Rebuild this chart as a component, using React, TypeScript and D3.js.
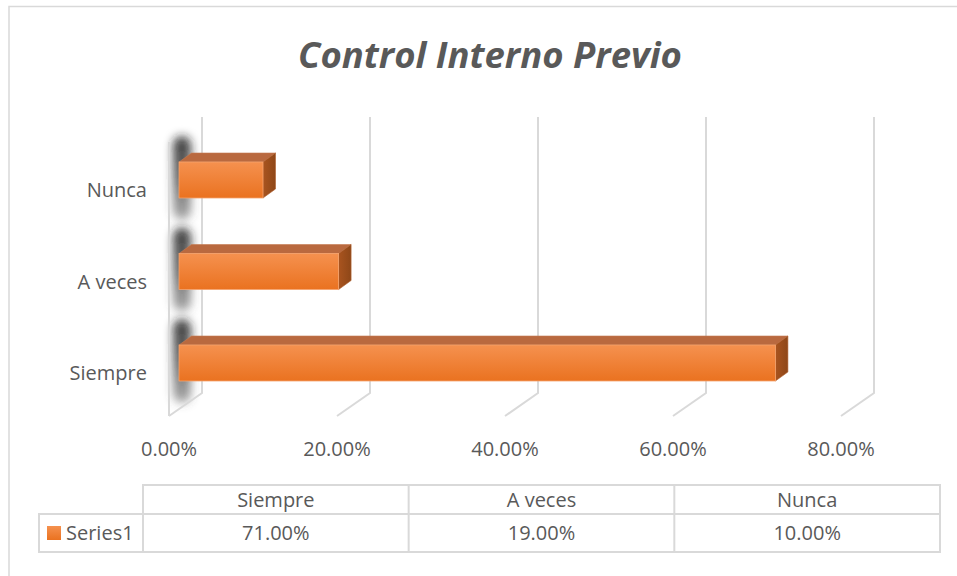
import React from "react";
import * as d3 from "d3";

const categories = ["Nunca", "A veces", "Siempre"];
const values = [0.1, 0.19, 0.71];
const tableCategories = ["Siempre", "A veces", "Nunca"];
const tableValues = [0.71, 0.19, 0.1];
const xTicks = [0, 0.2, 0.4, 0.6, 0.8];
const seriesName = "Series1";
const title = "Control Interno Previo";

const W = 957;
const H = 576;
const FONT = "'Open Sans', 'Noto Sans', sans-serif";
const TEXT = "#595959";
const GRID = "#D9D9D9";

export default function App() {
  const fmt = d3.format(".2%");
  const xFront = d3.scaleLinear().domain([0, 0.8]).range([169, 841]);
  const backDx = 33;
  const backDy = -23;
  const floorY = 416;
  const wallTop = 117;
  const barDxOff = 10;
  const y = d3.scalePoint<string>().domain(categories).range([180, 363]);
  const barH = 36;
  const depthX = 12.5;
  const depthY = 9;

  const fmtN = (n: number) => n.toFixed(1);

  const tableX = d3.scaleBand<string>().domain(tableCategories).range([143, 940]);

  return (
    <svg
      width={W}
      height={H}
      style={{ position: "absolute", left: 0, top: 0, background: "#fff" }}
      fontFamily={FONT}
    >
      <defs>
        <linearGradient id="front" x1="0" y1="0" x2="0" y2="1">
          <stop offset="0" stopColor="#F5914F" />
          <stop offset="1" stopColor="#EA7220" />
        </linearGradient>
        <linearGradient id="side" x1="0" y1="0" x2="1" y2="0">
          <stop offset="0" stopColor="#A9541F" />
          <stop offset="1" stopColor="#8E4718" />
        </linearGradient>
        <linearGradient id="shadow" x1="0" y1="0" x2="0" y2="1">
          <stop offset="0" stopColor="#1a1a1a" stopOpacity={0.85} />
          <stop offset="0.5" stopColor="#333" stopOpacity={0.75} />
          <stop offset="1" stopColor="#555" stopOpacity={0.5} />
        </linearGradient>
        <filter id="blur" x="-100%" y="-50%" width="300%" height="200%">
          <feGaussianBlur stdDeviation="5" />
        </filter>
      </defs>
      <rect x={0} y={0} width={W} height={H} fill="#fff" />
      <path d={`M9,${H + 5} V6.5 H${W + 5}`} fill="none" stroke={GRID} strokeWidth={1.5} />

      <text
        x={490}
        y={68}
        textAnchor="middle"
        fontSize={36.5}
        fontWeight={700}
        fontStyle="italic"
        fill={TEXT}
      >
        {title}
      </text>

      {/* shadows on the side wall */}
      {categories.map((c) => {
        const yt = y(c)! - barH / 2;
        return (
          <rect
            key={"s" + c}
            x={173}
            y={yt - 26}
            width={18}
            height={barH + 48}
            rx={9}
            fill="url(#shadow)"
            filter="url(#blur)"
          />
        );
      })}

      {xTicks.map((t) => {
        const xf = xFront(t);
        const xb = xf + backDx;
        return (
          <path
            key={t}
            d={`M${xb},${wallTop} V${floorY + backDy} L${xf},${floorY}`}
            fill="none"
            stroke={GRID}
            strokeWidth={2}
          />
        );
      })}
      <line x1={xFront(0)} x2={xFront(0)} y1={142} y2={floorY} stroke={GRID} strokeWidth={2} />

      {categories.map((c, i) => {
        const v = values[i];
        const x0 = xFront(0) + barDxOff;
        const x1 = xFront(v) + barDxOff;
        const yt = y(c)! - barH / 2;
        const yb = yt + barH;
        const top = `M${fmtN(x0)},${fmtN(yt)} L${fmtN(x0 + depthX)},${fmtN(yt - depthY)} L${fmtN(
          x1 + depthX
        )},${fmtN(yt - depthY)} L${fmtN(x1)},${fmtN(yt)} Z`;
        const side = `M${fmtN(x1)},${fmtN(yt)} L${fmtN(x1 + depthX)},${fmtN(yt - depthY)} L${fmtN(
          x1 + depthX
        )},${fmtN(yb - depthY)} L${fmtN(x1)},${fmtN(yb)} Z`;
        return (
          <g key={c}>
            <path d={top} fill="#B9693F" stroke="#C47A50" strokeWidth={0.6} />
            <path d={side} fill="url(#side)" stroke="#B0602F" strokeWidth={0.6} />
            <rect
              x={x0}
              y={yt}
              width={x1 - x0}
              height={barH}
              fill="url(#front)"
              stroke="#F6A46E"
              strokeWidth={0.8}
            />
          </g>
        );
      })}

      {categories.map((c) => (
        <text
          key={"l" + c}
          x={147}
          y={y(c)! + 17}
          textAnchor="end"
          fontSize={20}
          fill={TEXT}
        >
          {c}
        </text>
      ))}

      {xTicks.map((t) => (
        <text key={"t" + t} x={xFront(t)} y={456} textAnchor="middle" fontSize={20} fill={TEXT}>
          {fmt(t)}
        </text>
      ))}

      <g stroke={GRID} strokeWidth={2} fill="none">
        <path d={`M143,552 V485 H940 V552 H39 V514 H940`} />
        {tableCategories.slice(1).map((c) => (
          <line key={"v" + c} x1={tableX(c)!} x2={tableX(c)!} y1={485} y2={552} />
        ))}
      </g>
      {tableCategories.map((c, i) => (
        <g key={"tc" + c}>
          <text
            x={tableX(c)! + tableX.bandwidth() / 2}
            y={507}
            textAnchor="middle"
            fontSize={20}
            fill={TEXT}
          >
            {c}
          </text>
          <text
            x={tableX(c)! + tableX.bandwidth() / 2}
            y={540}
            textAnchor="middle"
            fontSize={20}
            fill={TEXT}
          >
            {fmt(tableValues[i])}
          </text>
        </g>
      ))}
      <rect x={47} y={526} width={14} height={14} fill="url(#front)" />
      <text x={66} y={540} fontSize={20} fill={TEXT}>
        {seriesName}
      </text>
    </svg>
  );
}
